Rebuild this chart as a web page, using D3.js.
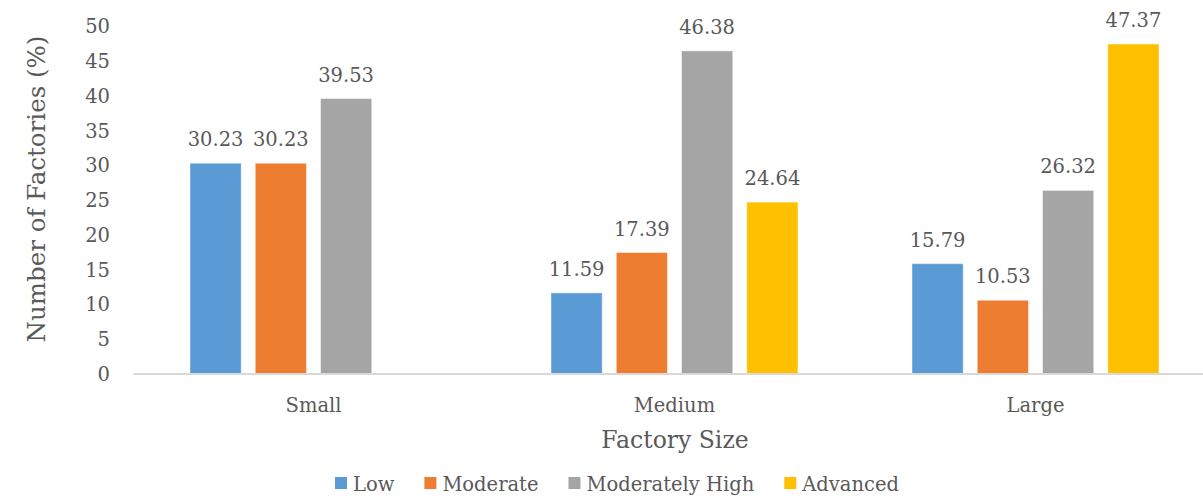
<!DOCTYPE html>
<html>
<head>
<meta charset="utf-8">
<script src="https://cdn.jsdelivr.net/npm/d3@7"></script>
<style>
  html, body { margin: 0; padding: 0; background: #fff; }
  svg { display: block; }
  text { font-family: "DejaVu Serif", "Liberation Serif", serif; fill: #595959; }
</style>
</head>
<body>
<svg id="chart" width="1203" height="504"></svg>
<script>
// Factory size groups and maturity levels
const categories = ["Small", "Medium", "Large"];
const seriesNames = ["Low", "Moderate", "Moderately High", "Advanced"];
const lowValues = [30.23, 11.59, 15.79];
const moderateValues = [30.23, 17.39, 10.53];
const moderatelyHighValues = [39.53, 46.38, 26.32];
const advancedValues = [null, 24.64, 47.37];
const yTicks = [0, 5, 10, 15, 20, 25, 30, 35, 40, 45, 50];
const colors = ["#5B9BD5", "#ED7D31", "#A5A5A5", "#FFC000"];

const seriesValues = [lowValues, moderateValues, moderatelyHighValues, advancedValues];
const FONT = '"DejaVu Serif", "Liberation Serif", serif';

const svg = d3.select("#chart");
const plot = { left: 133, right: 1216, top: 25.7, bottom: 373.5 };

const x0 = d3.scaleBand().domain(categories).range([plot.left, plot.right]).paddingInner(0).paddingOuter(0);
const x1 = d3.scaleBand().domain(seriesNames).range([57, x0.bandwidth() - 57]).paddingInner(14 / 65).paddingOuter(0);
const y = d3.scaleLinear().domain([0, 50]).range([plot.bottom, plot.top]);

// Y axis tick labels (no axis line)
const yAxis = d3.axisLeft(y).tickValues(yTicks).tickSize(0).tickPadding(0);
const yg = svg.append("g").attr("transform", `translate(110,0)`).call(yAxis);
yg.select(".domain").remove();
yg.selectAll("text").style("font-size", "19.5px").attr("fill", "#595959")
  .style("font-family", FONT).attr("dy", "0.36em");

// Bars
const rows = [];
categories.forEach((c, i) => {
  seriesNames.forEach((s, j) => {
    const v = seriesValues[j][i];
    if (v !== null && v !== undefined) rows.push({ cat: c, series: s, value: v, color: colors[j] });
  });
});

const bars = svg.append("g");
bars.selectAll("rect").data(rows).enter().append("rect")
  .attr("x", d => x0(d.cat) + x1(d.series))
  .attr("y", d => y(d.value))
  .attr("width", x1.bandwidth())
  .attr("height", d => y(0) - y(d.value))
  .attr("fill", d => d.color)
  .attr("stroke", "#ffffff")
  .attr("stroke-opacity", 0.45)
  .attr("stroke-width", 1);

// Value labels
svg.append("g").selectAll("text").data(rows).enter().append("text")
  .attr("x", d => x0(d.cat) + x1(d.series) + x1.bandwidth() / 2)
  .attr("y", d => y(d.value) - 17)
  .attr("text-anchor", "middle")
  .style("font-size", "19.5px")
  .attr("fill", "#404040")
  .text(d => d.value.toFixed(2));

// X axis baseline and category labels
const xAxis = d3.axisBottom(x0).tickSize(0).tickPadding(0);
const xg = svg.append("g").attr("transform", `translate(0,${plot.bottom})`).call(xAxis);
xg.select(".domain").attr("stroke", "#D9D9D9").attr("stroke-width", 2);
xg.selectAll("text").style("font-size", "19.5px").attr("fill", "#595959")
  .style("font-family", FONT).attr("y", 38).attr("dy", 0);

// Axis titles
svg.append("text")
  .attr("x", 675).attr("y", 448)
  .attr("text-anchor", "middle")
  .style("font-size", "23.5px")
  .text("Factory Size");

svg.append("text")
  .attr("transform", "translate(45,189) rotate(-90)")
  .attr("text-anchor", "middle")
  .style("font-size", "24.5px")
  .text("Number of Factories (%)");

// Legend, laid out from measured label widths and centred
const legend = svg.append("g");
const items = seriesNames.map((s, j) => {
  const g = legend.append("g");
  g.append("rect").attr("x", 0).attr("y", 477).attr("width", 12).attr("height", 12).attr("fill", colors[j]);
  const t = g.append("text").attr("x", 18).attr("y", 491).style("font-size", "19.5px").text(s);
  return { g, w: 18 + t.node().getComputedTextLength() };
});
const gap = 30;
const total = d3.sum(items, d => d.w) + gap * (items.length - 1);
let cx = 617 - total / 2;
items.forEach(it => { it.g.attr("transform", `translate(${cx},0)`); cx += it.w + gap; });
</script>
</body>
</html>
